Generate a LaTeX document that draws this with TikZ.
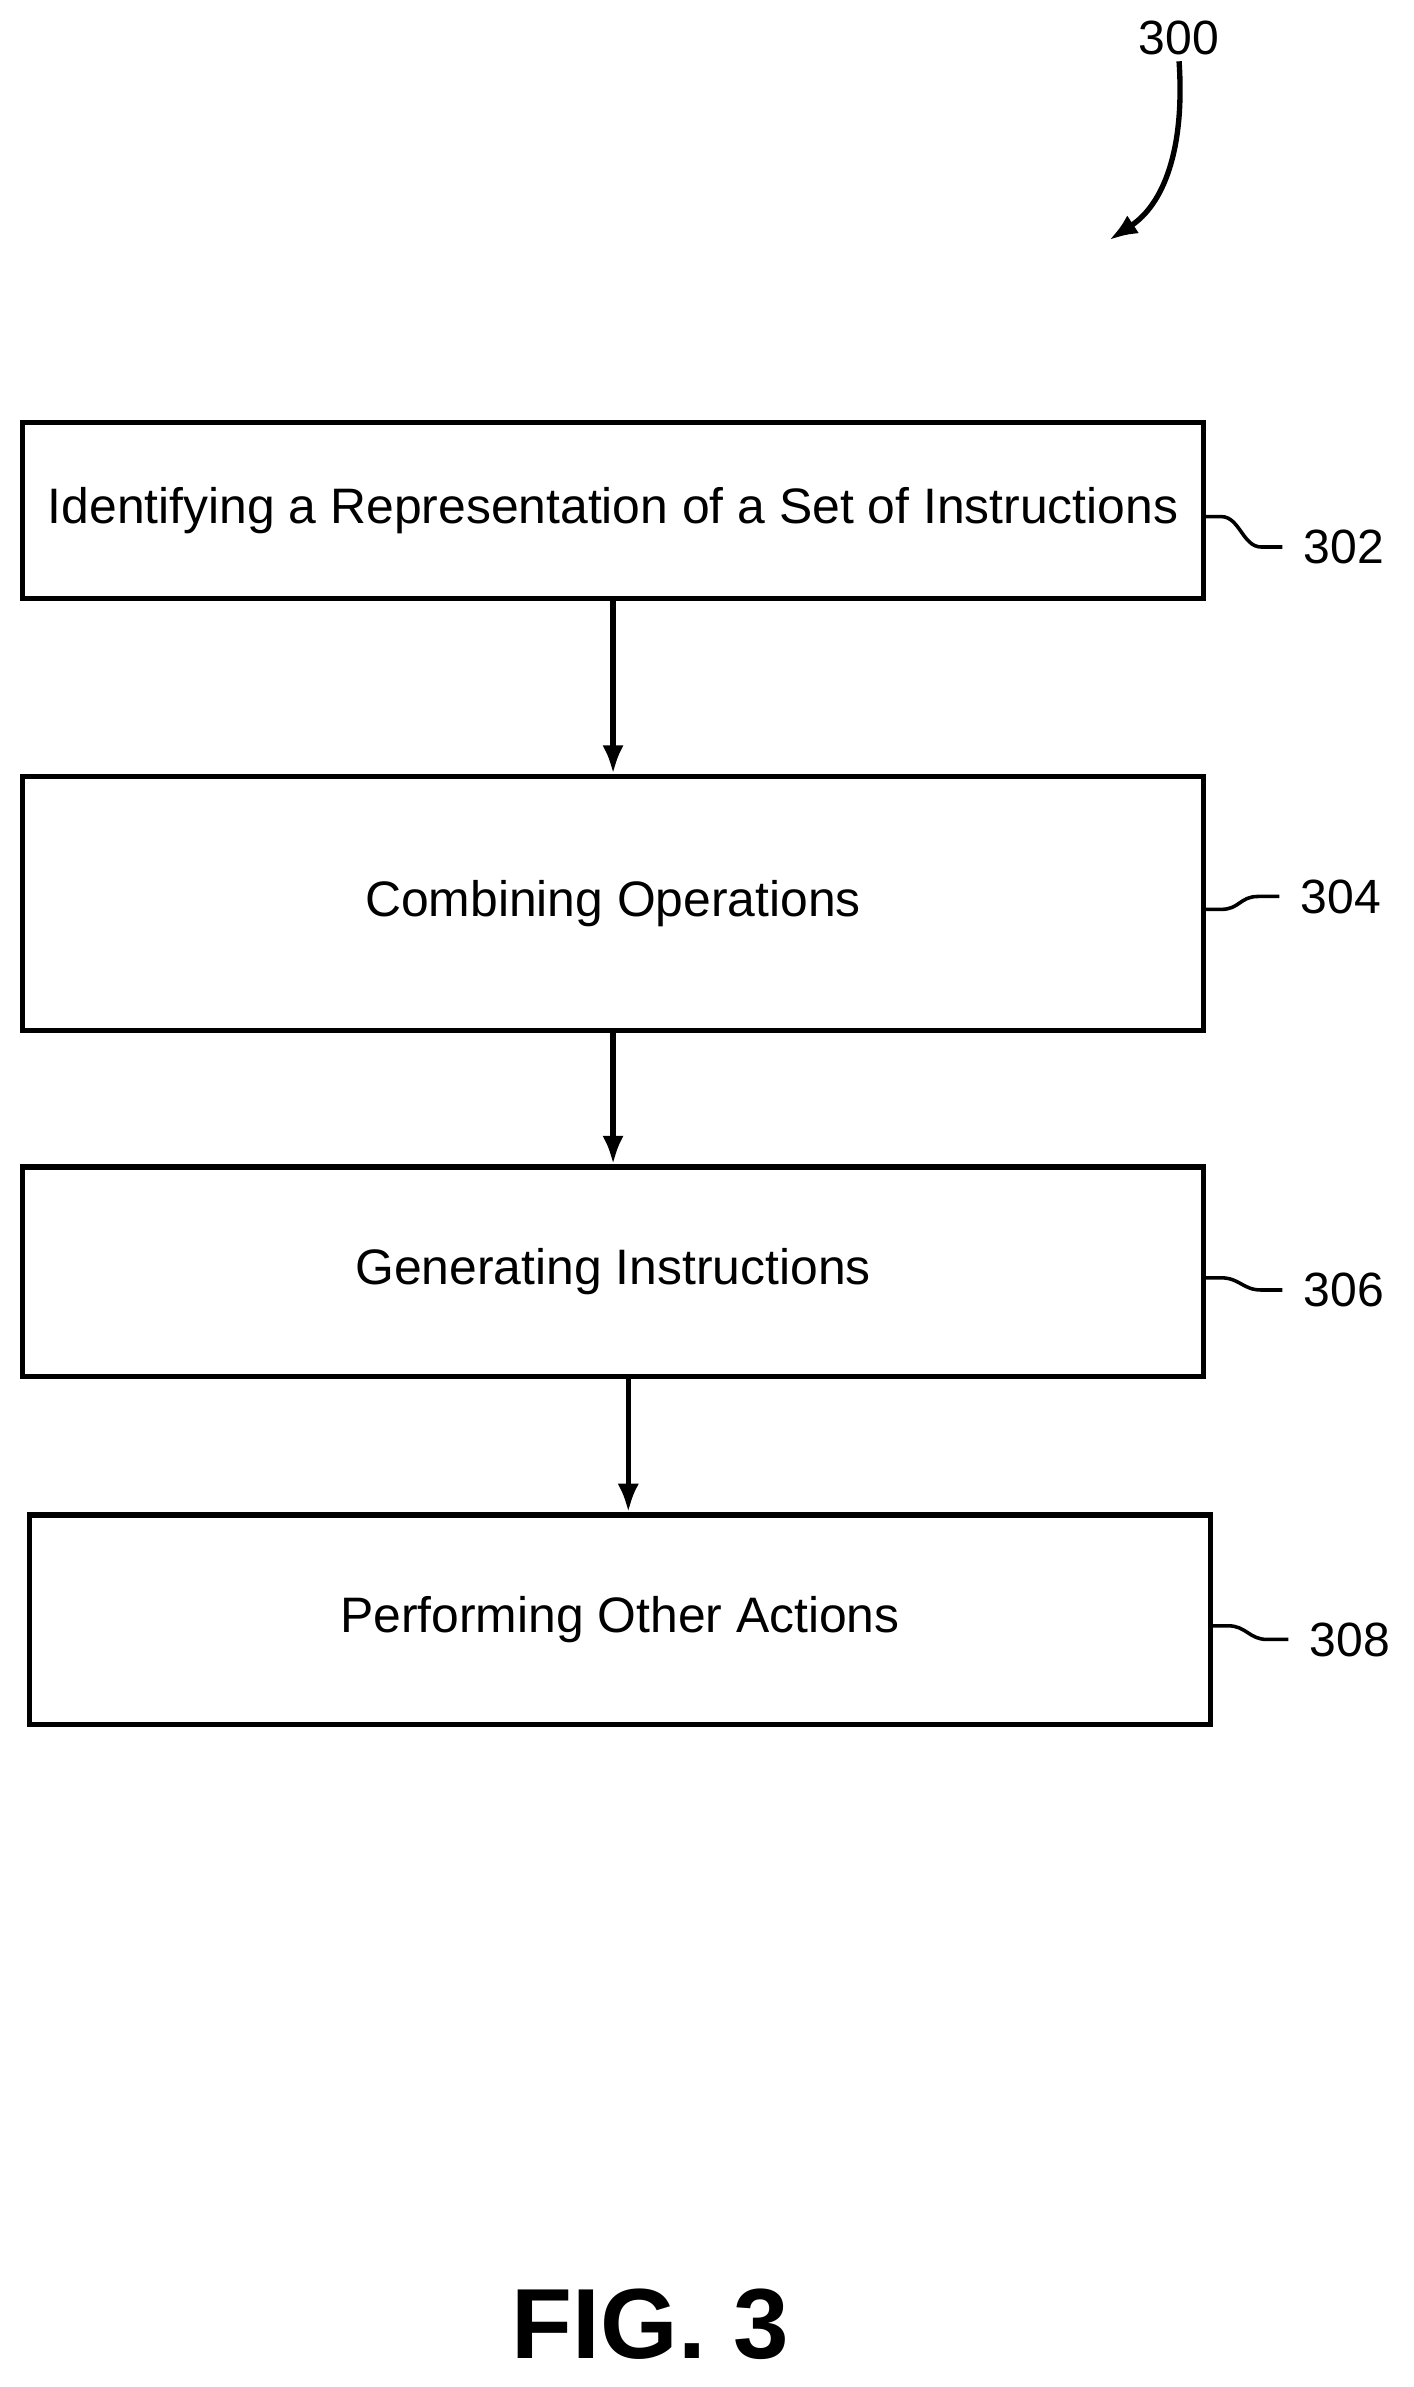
\documentclass[tikz,border=0pt]{standalone}
\usepackage{fontspec}
\setmainfont{Liberation Sans}
\usetikzlibrary{arrows,arrows.meta,positioning,calc}

\begin{document}
\begin{tikzpicture}[x=0.03cm,y=-0.03cm]
  \tikzset{stepbox/.style={draw,line width=3pt,minimum width=23.31cm,inner sep=0pt,font=\fontsize{28}{32}\selectfont}}
  \tikzset{flow/.style={-{Latex[length=16pt,width=12pt]},line width=3pt}}
  \tikzset{refnum/.style={font=\fontsize{27}{30}\selectfont,anchor=west}}
  \tikzset{squiggle/.style={line width=2pt}}
  \useasboundingbox (0,0) rectangle (930,1571);
  \node[stepbox,minimum height=3.48cm] (identify) at (403.5,336) {Identifying a Representation of a Set of Instructions};
  \node[stepbox,minimum height=5.01cm] (combine) at (403.5,594.5) {Combining Operations};
  \node[stepbox,minimum height=4.14cm] (generate) at (403.5,837) {Generating Instructions};
  \node[stepbox,minimum height=4.14cm] (perform) at (408,1066) {Performing Other Actions};
  \draw[flow] (identify.south) -- (combine.north);
  \draw[flow] (combine.south) -- (generate.north);
  \draw[flow] ($(generate.south)+(10,0)$) coordinate (g) -- (g |- perform.north);
  % reference numerals
  \node[refnum] (n302) at (854,360) {302};
  \node[refnum] (n304) at (852,590) {304};
  \node[refnum] (n306) at (854,849) {306};
  \node[refnum] (n308) at (858,1079) {308};
  \foreach \b/\n in {identify/n302,combine/n304,generate/n306,perform/n308}
    \draw[squiggle] ($(\b.east)+(0,4)$) coordinate (s) -- ++(10,0) .. controls ++(12,0) and ++(-12,0) .. ($(\n.west)+(-24,0)$) coordinate (t) -- ++(14,0);
  \node[font=\fontsize{27}{30}\selectfont] (n300) at (776,25) {300};
  \coordinate (tip300) at (730,158);
  \draw[flow] (n300.south) .. controls (780,100) and (765,135) .. (tip300);
  \node[font=\bfseries\fontsize{56}{66}\selectfont] (fig) at (428,1530) {FIG. 3};
\end{tikzpicture}
\end{document}
